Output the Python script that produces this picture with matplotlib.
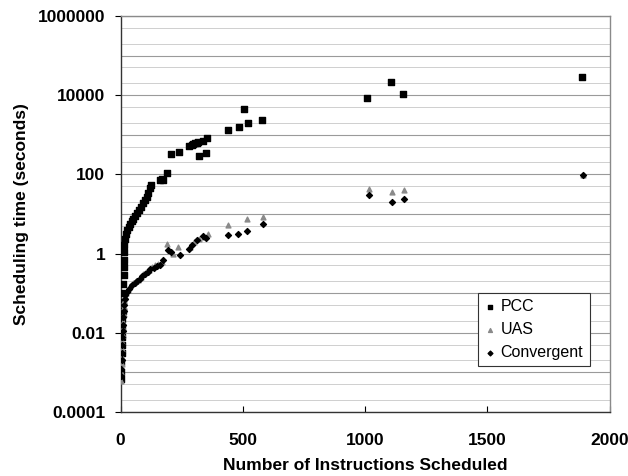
import matplotlib
matplotlib.use("Agg")
import matplotlib.pyplot as plt
import numpy as np

# values (instructions scheduled vs. seconds)
pcc_n = [2, 3, 3, 4, 5, 5, 6, 7, 8, 9, 10, 11, 12, 13, 14, 15, 16, 18, 22, 28,
         33, 39, 45, 52, 60, 66, 74, 82, 93, 100, 108, 114, 120, 125, 161, 168, 175, 189, 205, 239,
         281, 290, 297, 305, 312, 318, 322, 338, 349, 355, 440, 484, 504, 520, 578, 1006, 1105, 1154, 1888]
pcc_t = [0.0007, 0.001, 0.0018, 0.003, 0.005, 0.008, 0.013, 0.022, 0.035, 0.06, 0.1, 0.17, 0.28, 0.45, 0.7, 1.1, 1.6, 2.4, 3.2, 4.0,
         4.8, 5.6, 6.5, 7.6, 9.0, 10.5, 12.5, 15, 19, 22, 27, 33, 45, 54, 72, 76, 70, 107, 320, 375,
         530, 555, 590, 610, 620, 640, 290, 690, 355, 815, 1320, 1600, 4500, 1950, 2300, 8300, 22000, 10700, 29500]

uas_n = [2, 3, 4, 5, 6, 7, 8, 9, 10, 12, 14, 16, 18, 24, 30, 40, 52, 62, 70, 82,
         93, 105, 115, 127, 140, 155, 168, 189, 213, 236, 285, 300, 320, 340, 357, 440, 516, 581, 1016, 1110,
         1158, 1890]
uas_t = [0.0006, 0.001, 0.0016, 0.0025, 0.004, 0.006, 0.009, 0.013, 0.019, 0.03, 0.045, 0.065, 0.085, 0.1, 0.12, 0.15, 0.18, 0.2, 0.22, 0.26,
         0.3, 0.34, 0.38, 0.45, 0.5, 0.55, 0.6, 1.7, 1.0, 1.5, 1.5, 2.0, 2.3, 2.6, 3.2, 5.3, 7.6, 8.6, 42, 35,
         41, 95]

conv_n = [2, 3, 4, 5, 6, 7, 8, 9, 11, 13, 15, 17, 20, 26, 35, 45, 57, 66, 78, 88,
          100, 112, 122, 135, 150, 162, 175, 195, 205, 243, 281, 294, 311, 338, 350, 440, 481, 516, 581, 1016,
          1110, 1158, 1890]
conv_t = [0.0008, 0.0012, 0.002, 0.003, 0.005, 0.008, 0.011, 0.016, 0.025, 0.035, 0.05, 0.07, 0.09, 0.11, 0.13, 0.16, 0.18, 0.2, 0.23, 0.27,
          0.3, 0.35, 0.4, 0.43, 0.48, 0.52, 0.7, 1.2, 1.1, 0.92, 1.3, 1.65, 2.2, 2.7, 2.5, 2.9, 3.2, 3.7, 5.7, 30,
          20, 24, 95]

y_ticks = [1e-4, 1e-2, 1, 1e2, 1e4, 1e6]
y_labels = ["0.0001", "0.01", "1", "100", "10000", "1000000"]
x_ticks = [0, 500, 1000, 1500, 2000]

plt.rcParams["font.family"] = ["Liberation Sans", "DejaVu Sans"]

fig = plt.figure(figsize=(6.28, 4.76), dpi=100)
ax = fig.add_axes([0.192, 0.1345, 0.779, 0.832])

ax.set_yscale("log")
ax.set_xlim(0, 2000)
ax.set_ylim(1e-4, 1e6)

# horizontal gridlines: decades plus 2x and 5x lines
for e in range(-4, 7):
    ax.axhline(10.0 ** e, color="#9a9a9a", lw=0.8, zorder=0)
    if e < 6:
        for m in (2, 5):
            ax.axhline(m * 10.0 ** e, color="#c8c8c8", lw=0.6, zorder=0)

ax.scatter(pcc_n, pcc_t, marker="s", s=16, color="black", label="PCC", zorder=3)
ax.scatter(uas_n, uas_t, marker="^", s=12, color="#8a8a8a", label="UAS", zorder=4)
ax.scatter(conv_n, conv_t, marker="D", s=9, color="black", label="Convergent", zorder=4)

ax.set_yticks(y_ticks)
ax.set_yticklabels(y_labels)
ax.yaxis.set_minor_locator(matplotlib.ticker.NullLocator())
ax.set_xticks(x_ticks)
ax.set_xticklabels([str(v) for v in x_ticks])

ax.tick_params(axis="y", direction="out", length=4, labelsize=12.5, pad=7)
ax.tick_params(axis="x", direction="in", length=4, labelsize=12.5, pad=15)
for lab in ax.get_xticklabels() + ax.get_yticklabels():
    lab.set_fontweight("bold")

for side in ("left", "bottom"):
    ax.spines[side].set_color("#333333")
    ax.spines[side].set_linewidth(1.0)
for side in ("top", "right"):
    ax.spines[side].set_color("#8a8a8a")
    ax.spines[side].set_linewidth(1.0)

ax.set_ylabel("Scheduling time (seconds)", fontsize=12.5, fontweight="bold", labelpad=6)
ax.set_xlabel("Number of Instructions Scheduled", fontsize=12.5, fontweight="bold", labelpad=7)

leg = ax.legend(loc="lower left", bbox_to_anchor=(0.715, 0.095), fontsize=11.5,
                fancybox=False, framealpha=1, edgecolor="#333333",
                handlelength=0.6, handletextpad=0.4, borderpad=0.4, labelspacing=0.5,
                markerscale=0.8)
leg.get_frame().set_linewidth(0.8)

fig.savefig("out.png", dpi=100)
